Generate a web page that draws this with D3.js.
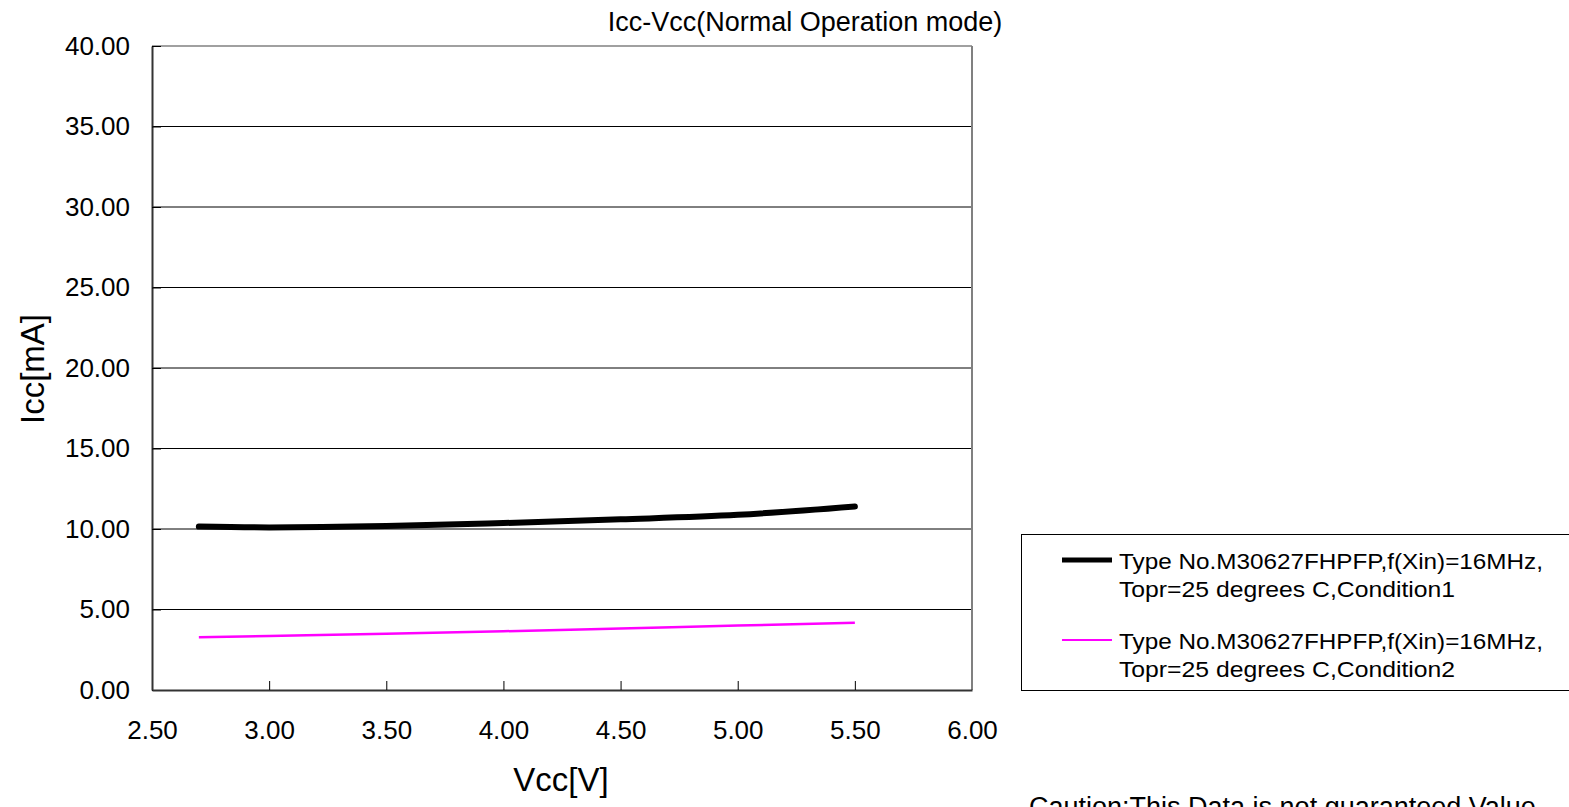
<!DOCTYPE html>
<html lang="en">
  <head>
    <meta charset="UTF-8" />
    <title>Icc-Vcc</title>
    <style>
      body { margin: 0; background: #fff; }
      text { font-family: "Liberation Sans", Arial, sans-serif; fill: #000; }
    </style>
  </head>
  <body>
    <svg id="svg" width="1569" height="807"></svg>

    <script src="https://d3js.org/d3.v7.min.js"></script>
    <script>
      // values
      const vcc = [2.7, 3.0, 3.5, 4.0, 4.5, 5.0, 5.5];
      const cond1 = [10.15, 10.1, 10.18, 10.37, 10.6, 10.88, 11.4];
      const cond2 = [3.27, 3.36, 3.5, 3.65, 3.82, 4.0, 4.18];
      const xTicks = [2.5, 3.0, 3.5, 4.0, 4.5, 5.0, 5.5, 6.0];
      const yTicks = [0, 5, 10, 15, 20, 25, 30, 35, 40];
      const seriesNames = [
        ["Type No.M30627FHPFP,f(Xin)=16MHz,", "Topr=25 degrees C,Condition1"],
        ["Type No.M30627FHPFP,f(Xin)=16MHz,", "Topr=25 degrees C,Condition2"],
      ];

      const svg = d3.select("#svg");
      const plotLeft = 152, plotRight = 972, plotTop = 46, plotBottom = 690;

      const x = d3.scaleLinear().domain([2.5, 6.0]).range([plotLeft, plotRight]);
      const y = d3.scaleLinear().domain([0, 40]).range([plotBottom, plotTop]);

      // gridlines
      svg.append("g")
        .selectAll("line")
        .data(yTicks.filter((d) => d > 0 && d < 40))
        .enter()
        .append("line")
        .attr("x1", plotLeft)
        .attr("x2", plotRight)
        .attr("y1", (d) => y(d))
        .attr("y2", (d) => y(d))
        .attr("stroke", "#000")
        .attr("stroke-width", 1);

      // frame: top/right lighter
      svg.append("line").attr("x1", plotLeft).attr("x2", plotRight).attr("y1", plotTop).attr("y2", plotTop)
        .attr("stroke", "#808080").attr("stroke-width", 1.5);
      svg.append("line").attr("x1", plotRight).attr("x2", plotRight).attr("y1", plotTop).attr("y2", plotBottom)
        .attr("stroke", "#808080").attr("stroke-width", 2);

      // axes
      const yAxis = svg.append("g")
        .attr("transform", `translate(${plotLeft},0)`)
        .call(d3.axisLeft(y).tickValues(yTicks).tickFormat(d3.format(".2f")).tickSizeInner(-9).tickSizeOuter(0).tickPadding(22));
      const xAxis = svg.append("g")
        .attr("transform", `translate(0,${plotBottom})`)
        .call(d3.axisBottom(x).tickValues(xTicks).tickFormat(d3.format(".2f")).tickSizeInner(-9).tickSizeOuter(0).tickPadding(31));

      [yAxis, xAxis].forEach((g) => {
        g.select(".domain").attr("stroke", "#333").attr("stroke-width", 2);
        g.selectAll(".tick line").attr("stroke", "#000").attr("stroke-width", 1);
        g.selectAll("text").attr("font-size", 26).attr("font-family", "Liberation Sans, Arial, sans-serif").attr("fill", "#000");
      });
      xAxis.selectAll(".tick").filter((d) => d === 2.5 || d === 6.0).select("line").remove();

      // series
      const line = d3.line()
        .x((d) => x(d[0]))
        .y((d) => y(d[1]))
        .curve(d3.curveMonotoneX);

      svg.append("path")
        .datum(d3.zip(vcc, cond2))
        .attr("d", line)
        .attr("fill", "none")
        .attr("stroke", "#ff00ff")
        .attr("stroke-width", 2.5);

      svg.append("path")
        .datum(d3.zip(vcc, cond1))
        .attr("d", line)
        .attr("fill", "none")
        .attr("stroke", "#000")
        .attr("stroke-width", 6)
        .attr("stroke-linecap", "round");

      // titles
      svg.append("text").attr("x", 805).attr("y", 31).attr("text-anchor", "middle")
        .attr("font-size", 27).text("Icc-Vcc(Normal Operation mode)");
      svg.append("text").attr("x", 561).attr("y", 791).attr("text-anchor", "middle")
        .attr("font-size", 33).text("Vcc[V]");
      svg.append("text").attr("transform", "translate(44,369) rotate(-90)").attr("text-anchor", "middle")
        .attr("font-size", 33).text("Icc[mA]");

      // legend
      const lg = svg.append("g");
      lg.append("rect").attr("x", 1021.5).attr("y", 534.5).attr("width", 560).attr("height", 156)
        .attr("fill", "#fff").attr("stroke", "#000").attr("stroke-width", 1);
      const legendStyles = [
        { color: "#000", width: 5, y: 560 },
        { color: "#ff00ff", width: 2, y: 640 },
      ];
      const legendWidths = [424, 336];
      seriesNames.forEach((lines, i) => {
        const s = legendStyles[i];
        lg.append("line").attr("x1", 1062).attr("x2", 1112).attr("y1", s.y).attr("y2", s.y)
          .attr("stroke", s.color).attr("stroke-width", s.width);
        lines.forEach((t, j) => {
          lg.append("text").attr("x", 1119).attr("y", s.y + 9 + j * 28)
            .attr("font-size", 22)
            .attr("textLength", legendWidths[j])
            .attr("lengthAdjust", "spacingAndGlyphs")
            .text(t);
        });
      });

      svg.append("text").attr("x", 1029).attr("y", 816).attr("font-size", 27)
        .text("Caution:This Data is not guaranteed Value.");
    </script>
  </body>
</html>
